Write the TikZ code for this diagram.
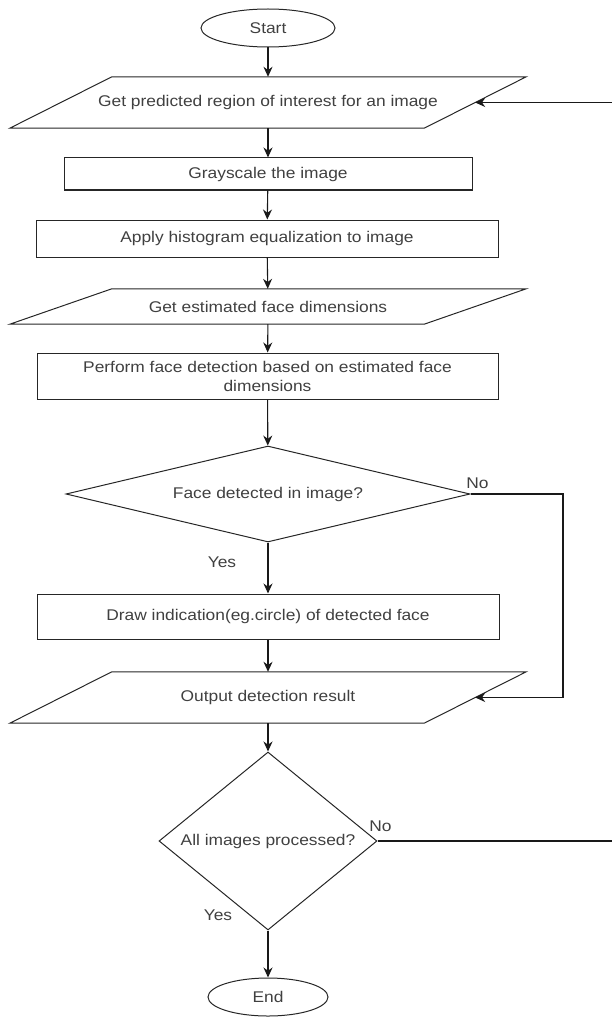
\documentclass[tikz,border=0pt]{standalone}
\usepackage{fontspec}
\setmainfont{Liberation Sans}[FakeStretch=1.12]
\usetikzlibrary{shapes.geometric,arrows.meta}

\begin{document}
\begin{tikzpicture}[x=1pt,y=-1pt,
  every node/.style={font=\fontsize{15.5}{19}\selectfont, text=black!75},
  terminal/.style={ellipse, draw=black!85, line width=1pt, inner sep=0pt},
  process/.style={rectangle, draw=black!85, line width=1pt, inner sep=2pt, align=center},
  io/.style={rectangle, minimum width=414pt, inner sep=0pt},
  decision/.style={diamond, draw=black!85, line width=1pt, inner sep=2pt},
  lbl/.style={inner sep=0pt},
  arr/.style={draw=black!90, line width=1.1pt, -{Stealth[length=10pt,width=9pt]}}]

\useasboundingbox (0,0) rectangle (611,1019);

% main column
\node[terminal, minimum width=134pt, minimum height=38pt] (start) at (268,28) {Start};
\node[io, minimum height=51pt] (p1) at (268,102.5) {Get predicted region of interest for an image};
\node[process, minimum width=408pt, minimum height=32pt] (g) at (268,174) {Grayscale the image};
\node[process, minimum width=462pt, minimum height=37pt] (a) at (267,238.5) {Apply histogram equalization to image};
\node[io, minimum height=35pt] (p2) at (268,306.5) {Get estimated face dimensions};
\node[process, minimum width=461pt, minimum height=46pt] (f) at (267.5,376) {Perform face detection based on estimated face\\dimensions};
\node[decision, shape aspect=4.2, minimum width=404pt, minimum height=96pt] (d1) at (268,494) {Face detected in image?};
\node[process, minimum width=462pt, minimum height=45pt] (dr) at (268,616.5) {Draw indication(eg.circle) of detected face};
\node[io, minimum height=51pt] (p3) at (268,697.5) {Output detection result};
\node[decision, shape aspect=1.22, minimum width=218pt, minimum height=178pt] (d2) at (268,841) {All images processed?};
\node[terminal, minimum width=120pt, minimum height=38pt] (end) at (268,997) {End};

% parallelogram outlines for the input/output steps
\foreach \n in {p1,p2,p3}
  \draw[black!85, line width=1pt]
    ([xshift=51pt]\n.north west) -- ([xshift=51pt]\n.north east)
    -- ([xshift=-51pt]\n.south east) -- ([xshift=-51pt]\n.south west) -- cycle;

% branch labels
\node[lbl] (no1) at ([xshift=7pt,yshift=11pt]d1.east) {No};
\node[lbl] (yes1) at ([xshift=-46pt,yshift=-20pt]d1.south) {Yes};
\node[lbl] (no2) at ([xshift=3pt,yshift=15pt]d2.east) {No};
\node[lbl] (yes2) at ([xshift=-50pt,yshift=15pt]d2.south) {Yes};

% return paths on the right
\coordinate (r1) at (563,0);
\coordinate (r2) at (620,0);

% connectors
\draw[arr] (start) -- (p1);
\draw[arr] (p1) -- (g);
\draw[arr] (g) -- (a);
\draw[arr] (a) -- (p2);
\draw[arr] (p2) -- (f);
\draw[arr] (f) -- (d1);
\draw[arr] (d1) -- (dr);
\draw[arr] (dr) -- (p3);
\draw[arr] (p3) -- (d2);
\draw[arr] (d2) -- (end);
\draw[arr] (d1.east) -- (d1.east -| r1) |- (p3.east);
\draw[arr] (d2.east) -- (d2.east -| r2) |- (p1.east);
\end{tikzpicture}
\end{document}
